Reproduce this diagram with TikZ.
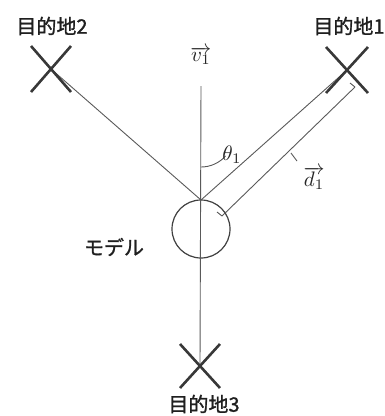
\documentclass[tikz,border=0pt]{standalone}
\usepackage{fontspec}
\usepackage{graphicx}
\newfontfamily\jp[FakeBold=1.2]{Noto Sans CJK JP}
\usetikzlibrary{calc}
\begin{document}
\begin{tikzpicture}[x=1pt,y=-1pt,
  xmark/.style={draw=black!78, line width=2.6pt},
  thin line/.style={draw=black!65, line width=0.9pt},
  jplabel/.style={font=\jp\fontsize{20}{22}\selectfont, text=black!88, inner sep=0pt},
  mathlabel/.style={text=black!85, inner sep=0pt}]
\useasboundingbox (0,0) rectangle (385,416);
% key points
\coordinate (top) at (201,200);
\coordinate (t1) at (347,70);
\coordinate (t2) at (51,69);
\coordinate (t3) at (200,366);
\coordinate (vtop) at (201,86);
% model
\node[draw=black!75, line width=1.2pt, circle, minimum size=58pt, inner sep=0pt] (model) at (201,229) {};
% lines
\draw[thin line] (vtop) -- (t3);
\draw[thin line] (top) -- (t1);
\draw[thin line] (top) -- (t2);
% X marks
\draw[xmark] ($(t1)+(-21,-23)$) -- ($(t1)+(21,23)$);
\draw[xmark] ($(t1)+(21,-23)$) -- ($(t1)+(-21,23)$);
\draw[xmark] ($(t2)+(-20,-23)$) -- ($(t2)+(20,23)$);
\draw[xmark] ($(t2)+(20,-23)$) -- ($(t2)+(-20,23)$);
\draw[xmark] ($(t3)+(-20,-22)$) -- ($(t3)+(20,22)$);
\draw[xmark] ($(t3)+(20,-22)$) -- ($(t3)+(-20,22)$);
% theta arc
\draw[thin line] ($(top)+(0,-33)$) arc[start angle=90, end angle=41.7, radius=33];
% d vector line (offset)
\coordinate (d0) at (222,216);
\coordinate (d1) at (355,87);
\draw[thin line] (d0) -- (d1);
\draw[thin line] (d0) -- ++(-5,-4);
\draw[thin line] (d1) -- ++(-5,-4);
\draw[thin line] (291,153) -- (297,161);
% labels
\node[jplabel] (l2) at (52,26) {目的地2};
\node[jplabel] (l1) at (349,26) {目的地1};
\node[jplabel] (l3) at (204,404) {目的地3};
\node[jplabel] (lm) at (114,247) {モデル};
\node[mathlabel] (v1) at (201,56) {\scalebox{2.1}{$\overrightarrow{v_1}$}};
\node[mathlabel] (th) at (232,155) {\scalebox{2.1}{$\theta_1$}};
\node[mathlabel] (dd) at (314,178) {\scalebox{2.1}{$\overrightarrow{d_1}$}};
\end{tikzpicture}
\end{document}
